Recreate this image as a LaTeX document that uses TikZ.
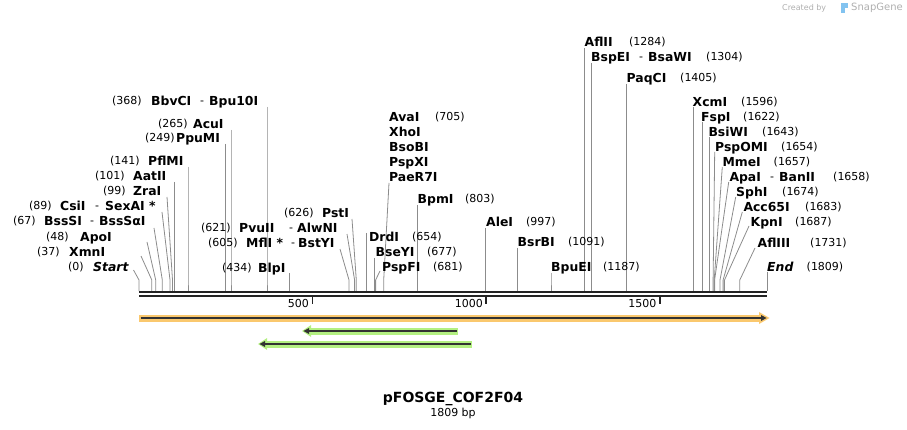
\documentclass[tikz,border=0pt]{standalone}
\usepackage{fontspec}
\setmainfont{DejaVu Sans}
\definecolor{cutgray}{RGB}{140,140,140}
\definecolor{bbcol}{RGB}{35,35,35}
\definecolor{orhalo}{RGB}{250,200,110}
\definecolor{grhalo}{RGB}{180,240,130}
\definecolor{darkline}{RGB}{50,50,50}
\definecolor{wmgray}{RGB}{175,175,175}
\definecolor{wmblue}{RGB}{130,195,240}
\newcommand\cutln[3]{\draw[cutline] (#1,#2) -- (#3,280) -- (#3,291);}
\begin{document}
\begin{tikzpicture}[x=1pt,y=-1pt,
  nm/.style={font=\fontsize{12.4}{12.4}\selectfont\bfseries, inner sep=0pt, anchor=base west, yshift=-4.5pt},
  nmi/.style={font=\fontsize{12.4}{12.4}\selectfont\bfseries\itshape, inner sep=0pt, anchor=base west, yshift=-4.5pt},
  num/.style={font=\fontsize{11}{11}\selectfont, inner sep=0pt, anchor=base west, yshift=-4pt},
  sep/.style={font=\fontsize{11}{11}\selectfont, inner sep=0pt, anchor=base west, yshift=-4pt},
  ticklab/.style={font=\fontsize{11}{11}\selectfont, inner sep=0pt, anchor=base east, yshift=-4pt},
  cutline/.style={draw=cutgray, line width=0.8pt},
  backbone/.style={draw=bbcol, line width=2.5pt},
  tickmark/.style={draw=bbcol, line width=1.6pt}]
\useasboundingbox (0,0) rectangle (907,430);

% watermark
\node[font=\fontsize{8}{8}\selectfont, text=wmgray, inner sep=0pt, anchor=west] (wm1) at (782,8) {Created by};
\fill[wmblue] (841,3.5) rectangle (845,13.5);
\fill[wmblue] (845,3.5) rectangle (848,8.5);
\node[font=\fontsize{10}{10}\selectfont, text=wmgray, inner sep=0pt, anchor=west] (wm2) at (851,8) {SnapGene};

% ---------- cut site lines ----------
\cutln{267}{107}{267}
\cutln{231}{130}{231}
\cutln{225.4}{144}{225.4}
\cutln{188}{167}{188}
\cutln{174.3}{182}{174.3}
\cutln{167}{197}{172.5}
\cutln{162}{212}{170}
\cutln{154}{228}{162.3}
\cutln{147}{242}{155.7}
\cutln{141}{256}{151.8}
\cutln{133.5}{270}{139}
\cutln{289.6}{273}{289.6}
\cutln{340}{249}{349}
\cutln{347}{234}{354.6}
\cutln{352}{219}{356.3}
\cutln{366.5}{233}{366.5}
\cutln{374.5}{258}{374.5}
\cutln{380}{271}{375.6}
\cutln{389}{183}{383.7}
\cutln{417.7}{205}{417.7}
\cutln{485.4}{228}{485.4}
\cutln{517.7}{248}{517.7}
\cutln{551}{273}{551}
\cutln{584.7}{48}{584.7}
\cutln{591.6}{63}{591.6}
\cutln{626.7}{84}{626.7}
\cutln{693}{107}{693}
\cutln{702}{122}{702}
\cutln{709.3}{137}{709.3}
\cutln{714.7}{152}{713.1}
\cutln{722.3}{167}{714.2}
\cutln{728.7}{182}{714.6}
\cutln{735.7}{197}{720}
\cutln{742.3}{212}{723.1}
\cutln{749}{226}{724.5}
\cutln{755}{248}{739.8}
\cutln{767}{272}{767}

% ---------- backbone ----------
\draw[backbone] (139,292) -- (767,292);
\draw[backbone] (139,296) -- (767,296);
\draw[tickmark] (312.6,297) -- (312.6,303.5);
\draw[tickmark] (486.2,297) -- (486.2,303.5);
\draw[tickmark] (659.8,297) -- (659.8,303.5);
\node[ticklab] (t500) at (309,303) {500};
\node[ticklab] (t1000) at (483,303) {1000};
\node[ticklab] (t1500) at (656.5,303) {1500};

% ---------- features ----------
\fill[orhalo] (139,314.5) rectangle (761,321.5);
\fill[orhalo] (759,312) -- (769.5,318) -- (759,324) -- cycle;
\draw[darkline, line width=1.6pt] (140.5,318) -- (762,318);
\fill[darkline] (761,315) -- (766.5,318) -- (761,321) -- cycle;

\fill[grhalo] (310,327.5) rectangle (458,334.5);
\fill[grhalo] (311,325) -- (302,331) -- (311,337) -- cycle;
\draw[darkline, line width=1.6pt] (456.5,331) -- (308,331);
\fill[darkline] (309,328) -- (303.5,331) -- (309,334) -- cycle;

\fill[grhalo] (266,340.5) rectangle (472,347.5);
\fill[grhalo] (267,338) -- (258,344) -- (267,350) -- cycle;
\draw[darkline, line width=1.6pt] (470.5,344) -- (264,344);
\fill[darkline] (265,341) -- (259.5,344) -- (265,347) -- cycle;

% ---------- labels (left side) ----------
\node[num] (n368) at (112,101) {(368)};
\node[nm] (BbvCI) at (151,101) {BbvCI};
\node[sep] (s368) at (200,101) {-};
\node[nm] (Bpu10I) at (209,101) {Bpu10I};

\node[num] (n265) at (158,124) {(265)};
\node[nm] (AcuI) at (193,124) {AcuI};

\node[num] (n249) at (145,138) {(249)};
\node[nm] (PpuMI) at (176,138) {PpuMI};

\node[num] (n141) at (110,161) {(141)};
\node[nm] (PflMI) at (148,161) {PflMI};

\node[num] (n101) at (95,176) {(101)};
\node[nm] (AatII) at (133,176) {AatII};

\node[num] (n99) at (103,191) {(99)};
\node[nm] (ZraI) at (133,191) {ZraI};

\node[num] (n89) at (29,206) {(89)};
\node[nm] (CsiI) at (60,206) {CsiI};
\node[sep] (s89) at (95,206) {-};
\node[nm] (SexAI) at (105,206) {SexAI *};

\node[num] (n67) at (13,221) {(67)};
\node[nm] (BssSI) at (44,221) {BssSI};
\node[sep] (s67) at (90,221) {-};
\node[nm] (BssSaI) at (99,221) {BssSαI};

\node[num] (n48) at (46,237) {(48)};
\node[nm] (ApoI) at (80,237) {ApoI};

\node[num] (n37) at (37,252) {(37)};
\node[nm] (XmnI) at (69,252) {XmnI};

\node[num] (n0) at (68,267) {(0)};
\node[nmi] (Start) at (93,267) {Start};

\node[num] (n434) at (222,268) {(434)};
\node[nm] (BlpI) at (258,268) {BlpI};

\node[num] (n605) at (208,243) {(605)};
\node[nm] (MflI) at (246,243) {MflI *};
\node[sep] (s605) at (291,243) {-};
\node[nm] (BstYI) at (298,243) {BstYI};

\node[num] (n621) at (201,228) {(621)};
\node[nm] (PvuII) at (239,228) {PvuII};
\node[sep] (s621) at (289,228) {-};
\node[nm] (AlwNI) at (297,228) {AlwNI};

\node[num] (n626) at (284,213) {(626)};
\node[nm] (PstI) at (322,213) {PstI};

% ---------- labels (right side) ----------
\node[nm] (DrdI) at (369,237) {DrdI};
\node[num] (n654) at (412,237) {(654)};
\node[nm] (BseYI) at (375.5,252) {BseYI};
\node[num] (n677) at (427,252) {(677)};
\node[nm] (PspFI) at (382,267) {PspFI};
\node[num] (n681) at (433,267) {(681)};

\node[nm] (AvaI) at (389,117) {AvaI};
\node[num] (n705) at (435,117) {(705)};
\node[nm] (XhoI) at (389,132) {XhoI};
\node[nm] (BsoBI) at (389,147) {BsoBI};
\node[nm] (PspXI) at (389,162) {PspXI};
\node[nm] (PaeR7I) at (389,177) {PaeR7I};

\node[nm] (BpmI) at (417.5,199) {BpmI};
\node[num] (n803) at (465,199) {(803)};
\node[nm] (AleI) at (486,222) {AleI};
\node[num] (n997) at (526,222) {(997)};
\node[nm] (BsrBI) at (517.5,242) {BsrBI};
\node[num] (n1091) at (568,242) {(1091)};
\node[nm] (BpuEI) at (551,267) {BpuEI};
\node[num] (n1187) at (603,267) {(1187)};

\node[nm] (AflII) at (584.5,42) {AflII};
\node[num] (n1284) at (629,42) {(1284)};
\node[nm] (BspEI) at (591,57) {BspEI};
\node[sep] (s1304) at (639,57) {-};
\node[nm] (BsaWI) at (648,57) {BsaWI};
\node[num] (n1304) at (706,57) {(1304)};
\node[nm] (PaqCI) at (626.5,78) {PaqCI};
\node[num] (n1405) at (680,78) {(1405)};

\node[nm] (XcmI) at (692.5,102) {XcmI};
\node[num] (n1596) at (741,102) {(1596)};
\node[nm] (FspI) at (701,117) {FspI};
\node[num] (n1622) at (743,117) {(1622)};
\node[nm] (BsiWI) at (708.3,132) {BsiWI};
\node[num] (n1643) at (762,132) {(1643)};
\node[nm] (PspOMI) at (715,147) {PspOMI};
\node[num] (n1654) at (781,147) {(1654)};
\node[nm] (MmeI) at (722.3,162) {MmeI};
\node[num] (n1657) at (773.5,162) {(1657)};
\node[nm] (ApaI) at (729.3,177) {ApaI};
\node[sep] (s1658) at (770,177) {-};
\node[nm] (BanII) at (779,177) {BanII};
\node[num] (n1658) at (833,177) {(1658)};
\node[nm] (SphI) at (736,192) {SphI};
\node[num] (n1674) at (782,192) {(1674)};
\node[nm] (Acc65I) at (743.3,207) {Acc65I};
\node[num] (n1683) at (805,207) {(1683)};
\node[nm] (KpnI) at (750.5,222) {KpnI};
\node[num] (n1687) at (795,222) {(1687)};
\node[nm] (AflIII) at (757.5,243) {AflIII};
\node[num] (n1731) at (810,243) {(1731)};
\node[nmi] (End) at (767,267) {End};
\node[num] (n1809) at (806.5,267) {(1809)};

% ---------- title ----------
\node[font=\fontsize{14}{14}\selectfont\bfseries, inner sep=0pt] (title) at (453,399) {pFOSGE\_COF2F04};
\node[font=\fontsize{11}{11}\selectfont, inner sep=0pt] (bplen) at (453,413) {1809 bp};
\end{tikzpicture}
\end{document}
